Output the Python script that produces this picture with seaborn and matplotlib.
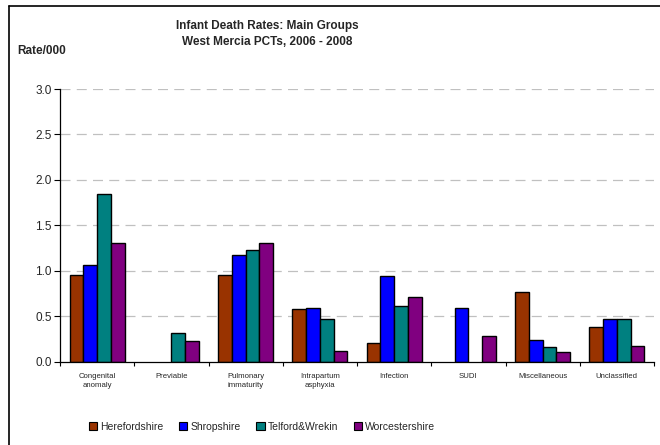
import matplotlib
matplotlib.use("Agg")
import matplotlib.pyplot as plt
from matplotlib.lines import Line2D
from matplotlib.patches import Patch
import seaborn as sns
import pandas as pd
import numpy as np

categories = ["Congenital\nanomaly", "Previable", "Pulmonary\nimmaturity", "Intrapartum\nasphyxia",
              "Infection", "SUDI", "Miscellaneous", "Unclassified"]
series_names = ["Herefordshire", "Shropshire", "Telford&Wrekin", "Worcestershire"]
herefordshire = [0.95, 0.0, 0.95, 0.58, 0.20, 0.0, 0.77, 0.38]
shropshire = [1.06, 0.0, 1.17, 0.59, 0.94, 0.59, 0.24, 0.47]
telford = [1.84, 0.31, 1.23, 0.47, 0.61, 0.0, 0.16, 0.47]
worcestershire = [1.31, 0.23, 1.31, 0.12, 0.71, 0.28, 0.11, 0.17]
colors = ["#993300", "#0000FF", "#008080", "#800080"]
yticks = [0.0, 0.5, 1.0, 1.5, 2.0, 2.5, 3.0]

rows = []
for name, vals in zip(series_names, [herefordshire, shropshire, telford, worcestershire]):
    for c, v in zip(categories, vals):
        rows.append({"Group": c, "Area": name, "Rate": v})
df = pd.DataFrame(rows)

sns.set_style("white")
plt.rcParams["font.family"] = ["Liberation Sans", "DejaVu Sans"]

fig = plt.figure(figsize=(6.6, 4.45), dpi=100)
ax = fig.add_axes([60 / 660, 1 - 361.5 / 445, (654 - 60) / 660, (361.5 - 89) / 445])

sns.barplot(data=df, x="Group", y="Rate", hue="Area", order=categories, hue_order=series_names,
            palette=colors, width=0.74, edgecolor="black", linewidth=1.0, saturation=1,
            legend=False, ax=ax)

# hide outlines of zero-height bars
for p in ax.patches:
    if p.get_height() == 0:
        p.set_linewidth(0)

ax.set_ylim(0, 3.0)
ax.set_xlim(-0.5, len(categories) - 0.5)
ax.set_yticks(yticks)
ax.set_yticklabels([f"{t:.1f}" for t in yticks], fontsize=8.5)
ax.set_xticks(range(len(categories)))
ax.set_xticklabels(categories, fontsize=5.6, linespacing=1.5)
ax.set_xticks(np.arange(-0.5, len(categories), 1.0), minor=True)
ax.tick_params(axis="x", which="major", length=0, pad=8)
ax.tick_params(axis="x", which="minor", length=3, width=0.8, direction="out", color="black", bottom=True)
ax.tick_params(axis="y", which="major", length=4, width=0.8, direction="out", color="black", left=True, pad=2)
ax.set_xlabel("")
ax.set_ylabel("")

for y in yticks[1:]:
    ax.axhline(y, color="#c0c0c0", linewidth=0.9, linestyle=(0, (8, 5)), zorder=0)

for s in ["top", "right"]:
    ax.spines[s].set_visible(False)
for s in ["left", "bottom"]:
    ax.spines[s].set_color("black")
    ax.spines[s].set_linewidth(0.9)

fig.text(267 / 660, 1 - 34 / 445, "Infant Death Rates: Main Groups\nWest Mercia PCTs, 2006 - 2008",
         ha="center", va="center", fontsize=8.5, fontweight="bold", linespacing=1.45)
fig.text(17 / 660, 1 - 51 / 445, "Rate/000", ha="left", va="center", fontsize=8.5, fontweight="bold")

handles = [Patch(facecolor=c, edgecolor="black", linewidth=0.8) for c in colors]
fig.legend(handles, series_names, loc="center", bbox_to_anchor=(262 / 660, 1 - 427 / 445),
           ncol=4, frameon=False, fontsize=7.5, handlelength=0.8, handleheight=0.8,
           handletextpad=0.3, columnspacing=1.5)

fig.add_artist(Line2D([9 / 660, 9 / 660], [0, 1 - 6 / 445], color="black", linewidth=1.2))
fig.add_artist(Line2D([9 / 660, 1], [1 - 6 / 445, 1 - 6 / 445], color="black", linewidth=1.2))

fig.savefig("out.png", dpi=100)
